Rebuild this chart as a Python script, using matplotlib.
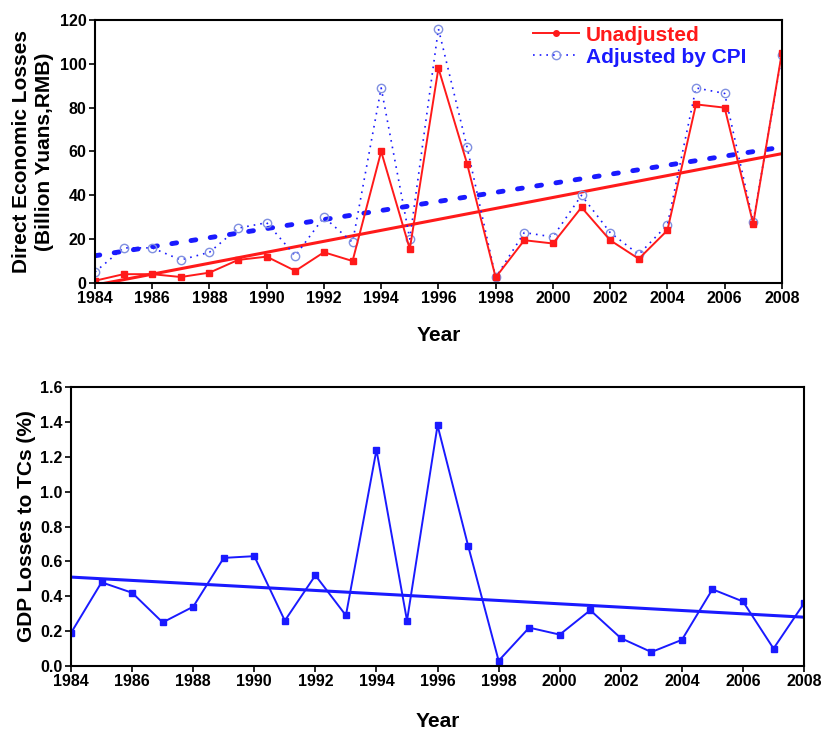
import numpy as np
import matplotlib.pyplot as plt

plt.rcParams['font.family'] = ['Liberation Sans', 'DejaVu Sans']

years = np.arange(1984, 2009)
unadjusted = [1, 4, 4, 2.7, 4.7, 10.5, 12, 5.5, 14, 10, 60, 15.5, 98, 54.5,
              2.5, 19.5, 18, 34.5, 19.5, 11, 24, 81.5, 80, 27, 105]
adjusted = [5, 16, 16, 10.5, 14, 25, 27.5, 12.4, 30, 18.5, 89, 20, 116, 62,
            2.5, 23, 21, 40, 23, 13, 26.5, 89, 86.5, 28, 104]
gdp_loss = [0.19, 0.48, 0.42, 0.25, 0.34, 0.62, 0.63, 0.26, 0.52, 0.29, 1.24,
            0.26, 1.38, 0.69, 0.03, 0.22, 0.18, 0.32, 0.16, 0.08, 0.15, 0.44,
            0.37, 0.10, 0.36]
# trend line end points (1984, 2008)
trend_years = [1984, 2008]
trend_unadj = [-1, 59]
trend_adj = [12.4, 62]
trend_gdp = [0.51, 0.28]

red = '#ff1a1a'
blue = '#1a1aff'

fig = plt.figure(figsize=(8.23, 7.33), dpi=100)

# upper panel
ax1 = fig.add_axes([0.1154, 0.614, 0.8346, 0.3587])
ax1.plot(trend_years, trend_unadj, '-', color=red, linewidth=2.2)
ax1.plot(trend_years, trend_adj, color=blue, linewidth=3.5,
         dashes=(1.0, 3.0), dash_capstyle='round')
l2, = ax1.plot(years, adjusted, color=blue, linewidth=1.2, dashes=(1, 3),
               marker='o', markersize=6, markerfacecolor='none',
               markeredgecolor='#8090e0', markeredgewidth=1)
l1, = ax1.plot(years, unadjusted, '-', color=red, linewidth=1.4,
               marker='s', markersize=4.5)
ax1.set_xlim(1984, 2008)
ax1.set_ylim(0, 120)
ax1.set_xticks(np.arange(1984, 2009, 2))
ax1.set_yticks(np.arange(0, 121, 20))
ax1.set_xlabel('Year', fontsize=15, fontweight='bold', labelpad=14)
ax1.set_ylabel('Direct Economic Losses\n(Billion Yuans,RMB)', fontsize=15,
               fontweight='bold', labelpad=4, linespacing=1.3)
h1, = ax1.plot([], [], '-', color=red, linewidth=1.4, marker='o',
               markersize=4)
leg = ax1.legend([h1, l2], ['Unadjusted', 'Adjusted by CPI'],
                 loc='upper right', bbox_to_anchor=(0.975, 1.05),
                 frameon=False, handlelength=2.2, handletextpad=0.3,
                 labelspacing=0.15, prop={'size': 15, 'weight': 'bold'})
leg.get_texts()[0].set_color(red)
leg.get_texts()[1].set_color(blue)

# lower panel
ax2 = fig.add_axes([0.0863, 0.0914, 0.8907, 0.3806])
ax2.plot(trend_years, trend_gdp, '-', color=blue, linewidth=2.2)
ax2.plot(years, gdp_loss, '-', color=blue, linewidth=1.4,
         marker='s', markersize=4.5)
ax2.set_xlim(1984, 2008)
ax2.set_ylim(0, 1.6)
ax2.set_xticks(np.arange(1984, 2009, 2))
ax2.set_yticks(np.arange(0, 1.61, 0.2))
ax2.set_yticklabels([f'{v:.1f}' for v in np.arange(0, 1.61, 0.2)])
ax2.set_xlabel('Year', fontsize=15, fontweight='bold', labelpad=16)
ax2.set_ylabel('GDP Losses to TCs (%)', fontsize=15, fontweight='bold',
               labelpad=3)

for ax in (ax1, ax2):
    for s in ax.spines.values():
        s.set_linewidth(1.5)
    ax.tick_params(direction='out', length=4, width=1.2, labelsize=11.5,
                   pad=2, top=False, right=False)
    for lab in ax.get_xticklabels() + ax.get_yticklabels():
        lab.set_fontweight('bold')

fig.savefig('out.png', dpi=100)
